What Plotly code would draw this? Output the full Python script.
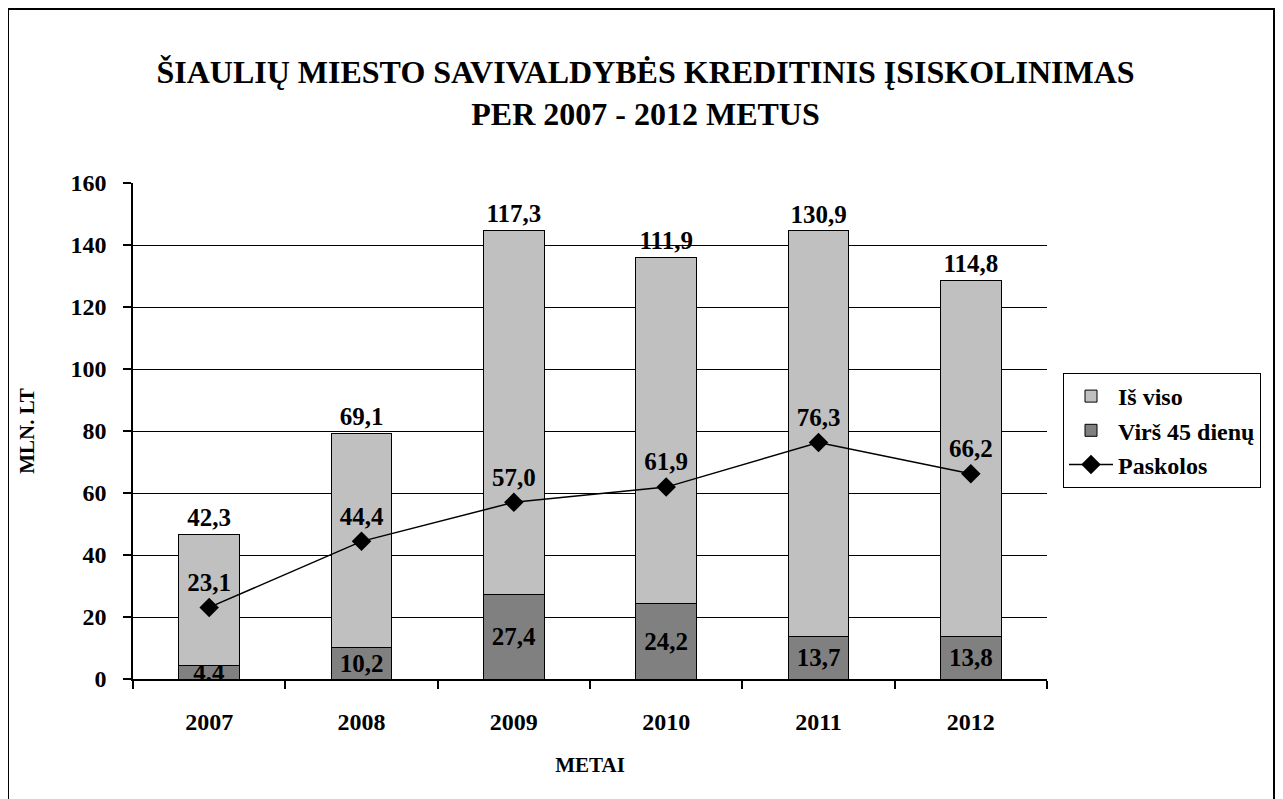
import plotly.graph_objects as go

years = ["2007", "2008", "2009", "2010", "2011", "2012"]
is_viso = [42.3, 69.1, 117.3, 111.9, 130.9, 114.8]
virs_45 = [4.4, 10.2, 27.4, 24.2, 13.7, 13.8]
paskolos = [23.1, 44.4, 57.0, 61.9, 76.3, 66.2]
y_ticks = [0, 20, 40, 60, 80, 100, 120, 140, 160]
inner_grid = [20, 40, 60, 80, 100, 120, 140]

def fmt(v):
    return f"{v:.1f}".replace(".", ",")

FONT = "Liberation Serif, Times New Roman, serif"
OFF = 8  # page body margin
W, H = 1283 - OFF, 799 - OFF
# plot area in page pixels: x 133..1047, y 183..679
L = 133 - OFF
T = 183 - OFF
R = W - (1047 - OFF)
B = H - (679 - OFF)
pw, ph = W - L - R, H - T - B

def px_x(page_x):
    return (page_x - OFF - L) / pw

def px_y(page_y):
    return (H - B - (page_y - OFF)) / ph

bold = dict(family=FONT, color="black", weight="bold")

fig = go.Figure()
fig.add_trace(go.Bar(
    x=years, y=virs_45, name="Virš 45 dienų", legendrank=2,
    marker=dict(color="#808080", line=dict(color="black", width=1)),
    text=[fmt(v) for v in virs_45], textposition="inside",
    insidetextanchor="middle", constraintext="none",
    textfont=dict(bold, size=25),
))
fig.add_trace(go.Bar(
    x=years, y=is_viso, name="Iš viso", legendrank=1,
    marker=dict(color="#C0C0C0", line=dict(color="black", width=1)),
    text=[fmt(v) for v in is_viso], textposition="outside",
    constraintext="none", cliponaxis=False,
    textfont=dict(bold, size=25),
))
fig.add_trace(go.Scatter(
    x=years, y=paskolos, name="Paskolos", legendrank=3,
    mode="lines+markers+text",
    line=dict(color="black", width=1.5),
    marker=dict(symbol="diamond", size=15, color="black"),
    text=[fmt(v) for v in paskolos], textposition="top center",
    textfont=dict(bold, size=25),
    cliponaxis=False,
))
# helper axis for the black inner gridlines
fig.add_trace(go.Scatter(
    x=years, y=paskolos, yaxis="y2", mode="none", showlegend=False, hoverinfo="skip",
))

fig.update_layout(
    width=W, height=H,
    margin=dict(l=L, r=R, t=T, b=B),
    barmode="stack", bargap=0.6,
    plot_bgcolor="white", paper_bgcolor="white",
    font=dict(family=FONT, color="black"),
    title=dict(
        text="ŠIAULIŲ MIESTO SAVIVALDYBĖS KREDITINIS ĮSISKOLINIMAS<br>PER 2007 - 2012 METUS",
        x=0.5, xref="container", y=1 - (83 - OFF) / H, yref="container",
        xanchor="center", yanchor="middle",
        font=dict(bold, size=32),
    ),
    legend=dict(
        x=px_x(1063), y=px_y(373), xanchor="left", yanchor="top",
        bordercolor="black", borderwidth=1, bgcolor="white",
        traceorder="normal", tracegroupgap=0,
        font=dict(bold, size=24),
        itemwidth=44,
    ),
    showlegend=True,
    yaxis2=dict(
        overlaying="y", range=[0, 160], tickvals=inner_grid, showticklabels=False,
        showgrid=True, gridcolor="black", gridwidth=1, zeroline=False, showline=False,
        ticks="",
    ),
)
fig.update_xaxes(
    type="category", showline=True, linecolor="black", linewidth=1.5,
    ticks="outside", tickson="boundaries", ticklen=8, tickcolor="black", tickwidth=1.5,
    tickfont=dict(bold, size=24), ticklabelstandoff=20,
    title=dict(text="METAI", font=dict(bold, size=21), standoff=24),
)
fig.update_yaxes(
    selector=dict(overlaying=None),
    range=[0, 160], tickvals=y_ticks, showline=True, linecolor="black", linewidth=1.5,
    ticks="outside", ticklen=8, tickcolor="black", tickwidth=1.5,
    showgrid=True, gridcolor="#C8C8C8", gridwidth=1, zeroline=False,
    tickfont=dict(bold, size=24), ticklabelstandoff=12,
    title=dict(text="MLN. LT", font=dict(bold, size=21), standoff=30),
)
fig.layout.yaxis2.update(showline=False, ticks="", tickvals=inner_grid, gridcolor="black")

# outer chart border
fig.add_shape(
    type="rect", xref="paper", yref="paper",
    x0=px_x(8), x1=px_x(1274),
    y0=px_y(812), y1=px_y(9),
    line=dict(color="black", width=2), fillcolor="rgba(0,0,0,0)", layer="above",
)

fig.write_html("out.html")
